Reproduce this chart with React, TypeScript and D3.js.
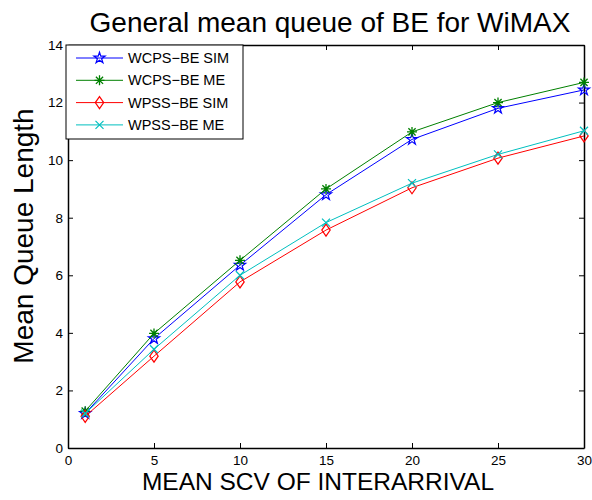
import React, { useEffect, useRef } from 'react';
import * as d3 from 'd3';

// Data
const scv = [1, 5, 10, 15, 20, 25, 30];
const wcpsSim = [1.2, 3.8, 6.35, 8.8, 10.72, 11.8, 12.44];
const wcpsMe = [1.28, 3.98, 6.52, 9.0, 10.98, 12.0, 12.7];
const wpssSim = [1.1, 3.19, 5.77, 7.57, 9.04, 10.07, 10.84];
const wpssMe = [1.2, 3.43, 6.0, 7.83, 9.2, 10.2, 11.02];
const xTicks = [0, 5, 10, 15, 20, 25, 30];
const yTicks = [0, 2, 4, 6, 8, 10, 12, 14];
const seriesNames = ['WCPS\u2212BE SIM', 'WCPS\u2212BE ME', 'WPSS\u2212BE SIM', 'WPSS\u2212BE ME'];

const FONT = 'Liberation Sans, Arial, sans-serif';

const App = () => {
  const svgRef = useRef<SVGSVGElement>(null);

  useEffect(() => {
    const width = 592;
    const height = 500;
    const margin = { top: 45, right: 8, bottom: 52, left: 68 };
    const w = width - margin.left - margin.right;
    const h = height - margin.top - margin.bottom;

    const root = d3.select(svgRef.current);
    root.selectAll('*').remove();
    root.attr('width', width).attr('height', height);

    root.append('rect').attr('width', width).attr('height', height).attr('fill', '#fff');

    const svg = root.append('g').attr('transform', `translate(${margin.left},${margin.top})`);

    const x = d3.scaleLinear().domain([0, 30]).range([0, w]);
    const y = d3.scaleLinear().domain([0, 14]).range([h, 0]);

    const series = [
      { name: seriesNames[0], values: wcpsSim, color: '#0000ff', marker: 'star' },
      { name: seriesNames[1], values: wcpsMe, color: '#008000', marker: 'asterisk' },
      { name: seriesNames[2], values: wpssSim, color: '#ff0000', marker: 'diamond' },
      { name: seriesNames[3], values: wpssMe, color: '#00bfbf', marker: 'x' },
    ];

    // axes, ticks pointing inward like MATLAB
    const axB = svg.append('g').attr('transform', `translate(0,${h})`)
      .call(d3.axisBottom(x).tickValues(xTicks).tickSizeInner(-5).tickSizeOuter(0).tickPadding(7));
    const axL = svg.append('g')
      .call(d3.axisLeft(y).tickValues(yTicks).tickSizeInner(-5).tickSizeOuter(0).tickPadding(5));
    svg.append('g')
      .call(d3.axisTop(x).tickValues(xTicks).tickSizeInner(-5).tickSizeOuter(0).tickFormat(() => ''));
    svg.append('g').attr('transform', `translate(${w},0)`)
      .call(d3.axisRight(y).tickValues(yTicks).tickSizeInner(-5).tickSizeOuter(0).tickFormat(() => ''));

    svg.selectAll('.domain').attr('stroke', '#000').attr('stroke-width', 1.5);
    svg.selectAll('.tick line').attr('stroke', '#000');
    [axB, axL].forEach(a => a.selectAll('text')
      .attr('font-family', FONT).attr('font-size', 13.5).attr('fill', '#000'));

    const line = d3.line<number>()
      .x((_, i) => x(scv[i]))
      .y(d => y(d));

    const drawMarker = (g: any, type: string, cx: number, cy: number, color: string) => {
      if (type === 'star') {
        g.append('path')
          .attr('d', d3.symbol(d3.symbolStar, 38)())
          .attr('transform', `translate(${cx},${cy})`)
          .attr('fill', 'none').attr('stroke', color).attr('stroke-width', 1.2);
      } else if (type === 'diamond') {
        const r = 6;
        g.append('path')
          .attr('d', `M${cx},${cy - r}L${cx + r * 0.7},${cy}L${cx},${cy + r}L${cx - r * 0.7},${cy}Z`)
          .attr('fill', 'none').attr('stroke', color).attr('stroke-width', 1.2);
      } else if (type === 'asterisk') {
        const r = 5;
        const d = r * 0.72;
        g.append('path')
          .attr('d', `M${cx - r},${cy}L${cx + r},${cy}M${cx},${cy - r}L${cx},${cy + r}` +
            `M${cx - d},${cy - d}L${cx + d},${cy + d}M${cx - d},${cy + d}L${cx + d},${cy - d}`)
          .attr('stroke', color).attr('stroke-width', 1.3);
      } else {
        const d = 4;
        g.append('path')
          .attr('d', `M${cx - d},${cy - d}L${cx + d},${cy + d}M${cx - d},${cy + d}L${cx + d},${cy - d}`)
          .attr('stroke', color).attr('stroke-width', 1.2);
      }
    };

    series.forEach(s => {
      svg.append('path')
        .datum(s.values)
        .attr('d', line)
        .attr('fill', 'none')
        .attr('stroke', s.color)
        .attr('stroke-width', 1);
      const mg = svg.append('g');
      s.values.forEach((v, i) => drawMarker(mg, s.marker, x(scv[i]), y(v), s.color));
    });

    // legend
    const lg = root.append('g').attr('transform', 'translate(66,45)');
    lg.append('rect')
      .attr('width', 177).attr('height', 94)
      .attr('fill', '#fff').attr('stroke', '#000').attr('stroke-width', 1);
    series.forEach((s, i) => {
      const ry = 13 + i * 22.3;
      lg.append('line')
        .attr('x1', 10).attr('x2', 57).attr('y1', ry).attr('y2', ry)
        .attr('stroke', s.color).attr('stroke-width', 1);
      drawMarker(lg, s.marker, 33.5, ry, s.color);
      lg.append('text')
        .attr('x', 62).attr('y', ry + 5)
        .attr('font-family', FONT).attr('font-size', 14.5).attr('fill', '#000')
        .text(s.name);
    });

    // title and axis labels
    root.append('text')
      .attr('x', 330).attr('y', 32)
      .attr('text-anchor', 'middle')
      .attr('font-family', FONT).attr('font-size', 28).attr('fill', '#000')
      .text('General mean queue of BE for WiMAX');

    root.append('text')
      .attr('transform', 'translate(33,236) rotate(-90)')
      .attr('text-anchor', 'middle')
      .attr('font-family', FONT).attr('font-size', 28).attr('fill', '#000')
      .text('Mean Queue Length');

    root.append('text')
      .attr('x', 318).attr('y', 490)
      .attr('text-anchor', 'middle')
      .attr('font-family', FONT).attr('font-size', 24.5).attr('fill', '#000')
      .text('MEAN SCV OF INTERARRIVAL');
  }, []);

  return <svg ref={svgRef} style={{ position: 'absolute', left: 0, top: 0 }}></svg>;
};

export default App;
